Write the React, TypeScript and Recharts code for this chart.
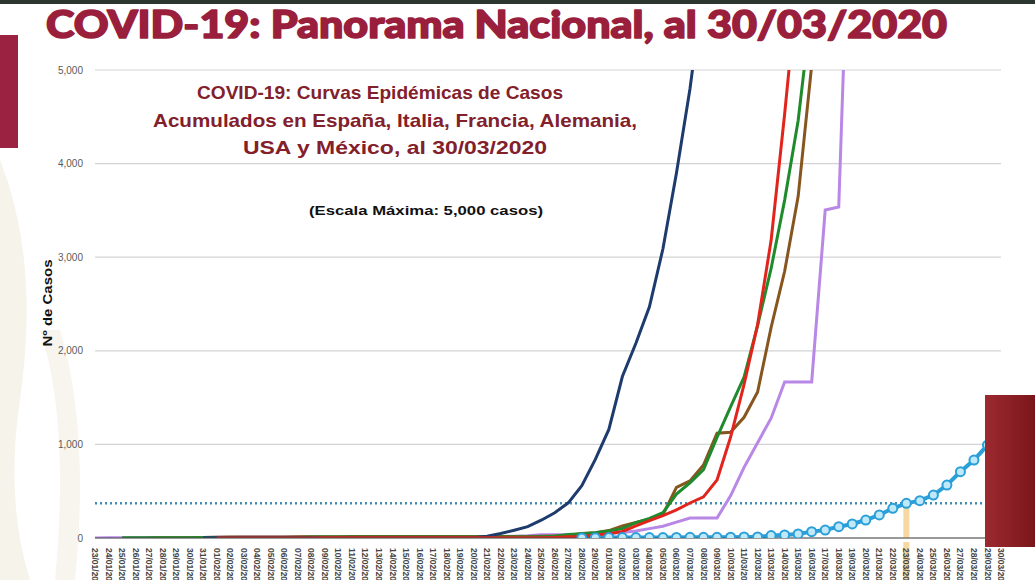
import { LineChart, Line, XAxis, YAxis, CartesianGrid, ReferenceLine } from 'recharts'

// one label per day, 23/01/20 .. 30/03/20
const dates = [
  '23/01/20', '24/01/20', '25/01/20', '26/01/20', '27/01/20', '28/01/20', '29/01/20', '30/01/20', '31/01/20',
  '01/02/20', '02/02/20', '03/02/20', '04/02/20', '05/02/20', '06/02/20', '07/02/20', '08/02/20', '09/02/20', '10/02/20',
  '11/02/20', '12/02/20', '13/02/20', '14/02/20', '15/02/20', '16/02/20', '17/02/20', '18/02/20', '19/02/20', '20/02/20',
  '21/02/20', '22/02/20', '23/02/20', '24/02/20', '25/02/20', '26/02/20', '27/02/20', '28/02/20', '29/02/20',
  '01/03/20', '02/03/20', '03/03/20', '04/03/20', '05/03/20', '06/03/20', '07/03/20', '08/03/20', '09/03/20', '10/03/20',
  '11/03/20', '12/03/20', '13/03/20', '14/03/20', '15/03/20', '16/03/20', '17/03/20', '18/03/20', '19/03/20', '20/03/20',
  '21/03/20', '22/03/20', '23/03/20', '24/03/20', '25/03/20', '26/03/20', '27/03/20', '28/03/20', '29/03/20', '30/03/20',
]

// each series starts at its own date (index into dates)
const usaStart = 0
const usa = [
  1, 2, 2, 5, 5, 5, 5, 5, 6, 7,
  8, 11, 11, 11, 12, 12, 12, 12, 12, 13,
  13, 14, 15, 15, 15, 15, 15, 15, 15, 15,
  15, 20, 25, 35, 35, 35, 35, 40, 50, 60,
  75, 100, 125, 170, 214, 214, 214, 450, 755, 1018,
  1280, 1667, 1667, 1667, 3504, 3536, 7800, 13700, 19100, 25500,
  33300, 43700, 53700, 65800, 83800, 101600, 121000, 140900,
]

const franceStart = 2
const france = [
  3, 3, 3, 3, 4, 4, 5, 5,
  6, 6, 6, 6, 6, 6, 11, 11, 11, 11,
  11, 11, 11, 11, 12, 12, 12, 12, 12, 12,
  12, 12, 12, 14, 18, 38, 45, 55, 75, 100,
  165, 210, 270, 470, 590, 730, 1075, 1400, 1720, 2270,
  2880, 3610, 4460, 5700, 6600, 7700, 9100, 10900, 12600, 14400,
  16000, 19800, 22300, 25200, 29200, 32900, 37600, 40200,
]

const germanyStart = 4
const germany = [
  1, 4, 4, 4, 5, 8,
  10, 12, 12, 12, 12, 13, 13, 14, 14, 16,
  16, 16, 16, 16, 16, 16, 16, 16, 16, 16,
  16, 16, 16, 18, 21, 26, 48, 57, 79, 130,
  165, 200, 250, 540, 610, 780, 1120, 1130, 1290, 1560,
  2250, 2850, 3650, 5050, 6500, 7800, 10000, 12300, 15300, 19800,
  22200, 24900, 29000, 36500, 42300, 48600, 52500, 57300,
]

const italyStart = 8
const italy = [
  2, 2,
  2, 2, 2, 2, 2, 3, 3, 3, 3, 3,
  3, 3, 3, 3, 3, 3, 3, 3, 3, 20,
  48, 83, 121, 190, 270, 376, 560, 840, 1160, 1725,
  2080, 2470, 3090, 3900, 4800, 5900, 7400, 9200, 10100, 12500,
  15100, 17700, 21200, 24700, 27980, 31500, 35700, 41000, 47000, 53600,
  59100, 63900, 69200, 74400, 80600, 86500, 92500, 97700,
]

const spainStart = 9
const spain = [
  1,
  1, 1, 1, 1, 1, 1, 1, 2, 2, 2,
  2, 2, 2, 2, 2, 2, 2, 2, 2, 2,
  2, 2, 2, 2, 6, 13, 15, 32, 45, 70,
  130, 185, 240, 300, 374, 440, 620, 1076, 1640, 2280,
  3180, 4530, 6000, 7800, 9900, 11800, 13700, 17100, 19900, 24900,
  28600, 33100, 39600, 47600, 57000, 65700, 73200, 80000,
]

const mexicoStart = 36
const mexico = [
  1, 4, 5, 5,
  5, 5, 5, 6, 7, 7, 7, 8, 12, 12,
  26, 32, 43, 68, 85, 121, 150, 192, 246, 317,
  370, 399, 459, 566, 708, 833, 993, 1094,
]

const yTicks = [0, 1000, 2000, 3000, 4000, 5000]
const markedDate = '23/03/20'
const markedLevel = 370

const pick = (arr: number[], start: number, i: number) => (i >= start ? arr[i - start] ?? null : null)

const rows = dates.map((date, i) => ({
  date,
  usa: pick(usa, usaStart, i),
  france: pick(france, franceStart, i),
  germany: pick(germany, germanyStart, i),
  italy: pick(italy, italyStart, i),
  spain: pick(spain, spainStart, i),
  mexico: pick(mexico, mexicoStart, i),
}))

function DateTick(props: any) {
  const { x, y, payload } = props
  const hi = payload.value === markedDate
  return (
    <g>
      {hi && <rect x={x - 3} y={y - 4} width={6} height={50} fill="#f6d9a2" />}
      <text
        x={x}
        y={y + 2}
        transform={`rotate(90, ${x}, ${y + 2})`}
        dy="0.35em"
        textAnchor="start"
        fontSize={8.5}
        fontWeight="bold"
        fill="#444"
        fontFamily='"Liberation Sans", Arial, sans-serif'
      >
        {payload.value}
      </text>
    </g>
  )
}

export default function App() {
  return (
    <div
      style={{
        position: 'absolute',
        left: 0,
        top: 0,
        width: 1035,
        height: 580,
        overflow: 'hidden',
        background: '#fff',
        fontFamily: '"Liberation Sans", Arial, sans-serif',
      }}
    >
      {/* slide background */}
      <svg width={1035} height={580} style={{ position: 'absolute', left: 0, top: 0 }}>
        <rect x={0} y={0} width={1035} height={4} fill="#2c3631" />
        <path d="M0 160 Q40 260 20 400 Q5 500 30 580 L0 580 Z" fill="#f6f3eb" />
        <path d="M40 330 Q70 420 55 580 L75 580 Q90 430 60 330 Z" fill="#f8f5ef" />
        <rect x={0} y={35} width={18} height={113} fill="#9b2241" />
      </svg>

      <div style={{ position: 'absolute', left: 0, top: 0 }}>
        <LineChart width={1035} height={580} data={rows} margin={{ top: 70, right: 34, bottom: 0, left: 0 }}>
          <CartesianGrid vertical={false} stroke="#d3d3d3" strokeWidth={1.2} />
          <XAxis
            dataKey="date"
            interval={0}
            height={42}
            tickLine={false}
            axisLine={{ stroke: '#4a4a4a', strokeWidth: 1.2 }}
            tick={DateTick}
          />
          <YAxis
            type="number"
            domain={[0, 5000]}
            ticks={yTicks}
            allowDataOverflow
            width={95}
            axisLine={false}
            tickLine={false}
            tickMargin={6}
            tick={{ fontSize: 10, fill: '#5a5a5a' }}
            tickFormatter={(v: number) => v.toLocaleString('en-US')}
          />
          <ReferenceLine
            segment={[
              { x: markedDate, y: 0 },
              { x: markedDate, y: markedLevel },
            ]}
            stroke="#f6d9a2"
            strokeWidth={6}
          />
          <ReferenceLine y={markedLevel} stroke="#3d8db6" strokeWidth={2.5} strokeDasharray="2 3" />
          <Line
            dataKey="mexico"
            stroke="#2a9fd8"
            strokeWidth={4}
            dot={{ r: 4.5, fill: '#bfe9fa', stroke: '#2a9fd8', strokeWidth: 2 }}
            isAnimationActive={false}
          />
          <Line dataKey="usa" stroke="#b987e6" strokeWidth={3} dot={false} isAnimationActive={false} />
          <Line dataKey="germany" stroke="#87561f" strokeWidth={3} dot={false} isAnimationActive={false} />
          <Line dataKey="france" stroke="#1f8b2c" strokeWidth={3} dot={false} isAnimationActive={false} />
          <Line dataKey="italy" stroke="#1e3b6e" strokeWidth={3} dot={false} isAnimationActive={false} />
          <Line dataKey="spain" stroke="#e1251d" strokeWidth={3} dot={false} isAnimationActive={false} />
        </LineChart>
      </div>

      {/* titles and the box on the right */}
      <svg
        width={1035}
        height={580}
        style={{ position: 'absolute', left: 0, top: 0, pointerEvents: 'none' }}
      >
        <defs>
          <linearGradient id="box" x1="0" x2="1" y1="0" y2="0">
            <stop offset="0" stopColor="#9c2a2f" />
            <stop offset="1" stopColor="#7a161b" />
          </linearGradient>
        </defs>
        <text
          x={46}
          y={38}
          textLength={901}
          lengthAdjust="spacingAndGlyphs"
          fontFamily="Lato, 'Open Sans', sans-serif"
          fontWeight={900}
          fontSize={37}
          fill="#9a1f3d"
          stroke="#9a1f3d"
          strokeWidth={1.6}
          strokeLinejoin="round"
        >
          COVID-19: Panorama Nacional, al 30/03/2020
        </text>
        <g fontWeight="bold" fontSize={18.5} fill="#82202b" textAnchor="middle">
          <text x={380} y={99} textLength={366} lengthAdjust="spacingAndGlyphs">
            COVID-19: Curvas Epidémicas de Casos
          </text>
          <text x={395} y={127} textLength={484} lengthAdjust="spacingAndGlyphs">
            Acumulados en España, Italia, Francia, Alemania,
          </text>
          <text x={395} y={154} textLength={304} lengthAdjust="spacingAndGlyphs">
            USA y México, al 30/03/2020
          </text>
        </g>
        <text
          x={426}
          y={215}
          textAnchor="middle"
          fontWeight="bold"
          fontSize={13.5}
          fill="#111"
          textLength={234}
          lengthAdjust="spacingAndGlyphs"
        >
          (Escala Máxima: 5,000 casos)
        </text>
        <text
          x={52}
          y={303}
          transform="rotate(-90, 52, 303)"
          textAnchor="middle"
          fontWeight="bold"
          fontSize={12.5}
          fill="#111"
          textLength={87}
          lengthAdjust="spacingAndGlyphs"
        >
          Nº de Casos
        </text>
        <rect x={985} y={395} width={50} height={152} fill="url(#box)" />
      </svg>
    </div>
  )
}
